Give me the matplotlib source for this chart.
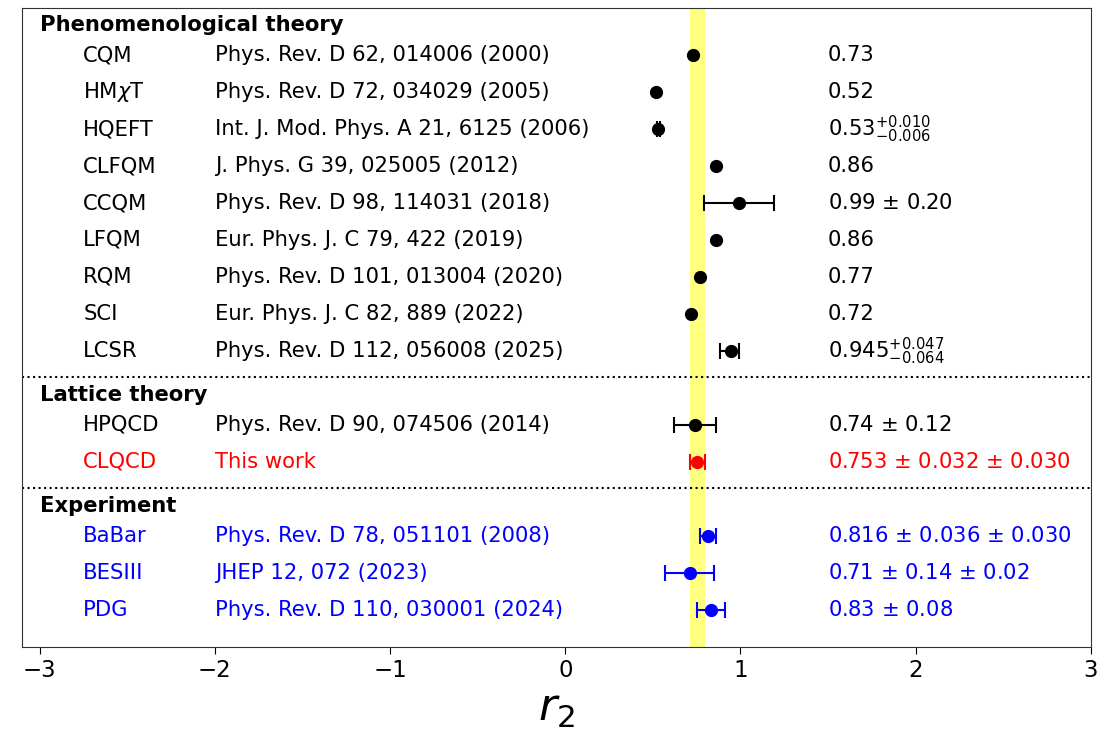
import matplotlib
matplotlib.use("Agg")
import matplotlib.pyplot as plt
import numpy as np

# phenomenological models
phen_names = ["CQM", r"HM$\chi$T", "HQEFT", "CLFQM", "CCQM", "LFQM", "RQM", "SCI", "LCSR"]
phen_refs = ["Phys. Rev. D 62, 014006 (2000)", "Phys. Rev. D 72, 034029 (2005)",
             "Int. J. Mod. Phys. A 21, 6125 (2006)", "J. Phys. G 39, 025005 (2012)",
             "Phys. Rev. D 98, 114031 (2018)", "Eur. Phys. J. C 79, 422 (2019)",
             "Phys. Rev. D 101, 013004 (2020)", "Eur. Phys. J. C 82, 889 (2022)",
             "Phys. Rev. D 112, 056008 (2025)"]
phen_val = [0.73, 0.52, 0.53, 0.86, 0.99, 0.86, 0.77, 0.72, 0.945]
phen_lo = [0, 0, 0.006, 0, 0.20, 0, 0, 0, 0.064]
phen_hi = [0, 0, 0.010, 0, 0.20, 0, 0, 0, 0.047]
phen_txt = ["0.73", "0.52", r"$0.53^{+0.010}_{-0.006}$", "0.86", r"0.99 $\pm$ 0.20",
            "0.86", "0.77", "0.72", r"$0.945^{+0.047}_{-0.064}$"]

# lattice
lat_names = ["HPQCD", "CLQCD"]
lat_refs = ["Phys. Rev. D 90, 074506 (2014)", "This work"]
lat_val = [0.74, 0.753]
lat_stat = [0.12, 0.032]
lat_sys = [0.0, 0.030]
lat_txt = [r"0.74 $\pm$ 0.12", r"0.753 $\pm$ 0.032 $\pm$ 0.030"]

# experiments
exp_names = ["BaBar", "BESIII", "PDG"]
exp_refs = ["Phys. Rev. D 78, 051101 (2008)", "JHEP 12, 072 (2023)",
            "Phys. Rev. D 110, 030001 (2024)"]
exp_val = [0.816, 0.71, 0.83]
exp_stat = [0.036, 0.14, 0.08]
exp_sys = [0.030, 0.02, 0.0]
exp_txt = [r"0.816 $\pm$ 0.036 $\pm$ 0.030", r"0.71 $\pm$ 0.14 $\pm$ 0.02", r"0.83 $\pm$ 0.08"]

fs = 15.2
x_name, x_ref, x_val, x_head = -2.75, -2.0, 1.5, -3.0

fig = plt.figure(figsize=(11.17, 7.31), dpi=100)
ax = fig.add_axes([0.0197, 0.115, 0.957, 0.874])

# band from this work (stat and sys combined)
band = np.hypot(lat_stat[1], lat_sys[1])
ax.axvspan(lat_val[1] - band, lat_val[1] + band, color="#ffff80", zorder=0, lw=0)

def point(x, y, lo, hi, color):
    if lo == 0 and hi == 0:
        ax.plot(x, y, "o", color=color, ms=8.5, zorder=3)
    else:
        ax.errorbar(x, y, xerr=[[lo], [hi]], fmt="o", color=color, ms=8.5,
                    capsize=6, elinewidth=1.5, capthick=1.5, zorder=3)

def labels(y, name, ref, txt, color):
    ax.text(x_name, y, name, color=color, fontsize=fs, va="center")
    ax.text(x_ref, y, ref, color=color, fontsize=fs, va="center")
    ax.text(x_val, y, txt, color=color, fontsize=fs, va="center")

for i, y in enumerate(range(1, 10)):
    point(phen_val[i], y, phen_lo[i], phen_hi[i], "black")
    labels(y, phen_names[i], phen_refs[i], phen_txt[i], "black")

lat_err = np.hypot(lat_stat, lat_sys)
for i, (y, c) in enumerate(zip([11, 12], ["black", "red"])):
    point(lat_val[i], y, lat_err[i], lat_err[i], c)
    labels(y, lat_names[i], lat_refs[i], lat_txt[i], c)

exp_err = np.hypot(exp_stat, exp_sys)
for i, y in enumerate([14, 15, 16]):
    point(exp_val[i], y, exp_err[i], exp_err[i], "blue")
    labels(y, exp_names[i], exp_refs[i], exp_txt[i], "blue")

# section headers and separators
for y, h in [(0.2, "Phenomenological theory"), (10.2, "Lattice theory"), (13.2, "Experiment")]:
    ax.text(x_head, y, h, fontsize=fs, fontweight="bold", va="center")
for y in [9.7, 12.7]:
    ax.axhline(y, color="black", ls=":", lw=1.5)

ax.set_xlim(-3.1, 3.0)
ax.set_ylim(17.0, -0.27)
ax.set_yticks([])
ax.set_xticks(np.arange(-3, 4))
ax.tick_params(axis="x", labelsize=16.5, length=5)
ax.set_xlabel(r"$r_2$", fontsize=32, labelpad=4)
for s in ax.spines.values():
    s.set_color("#333333")

fig.savefig("out.png", dpi=100)
